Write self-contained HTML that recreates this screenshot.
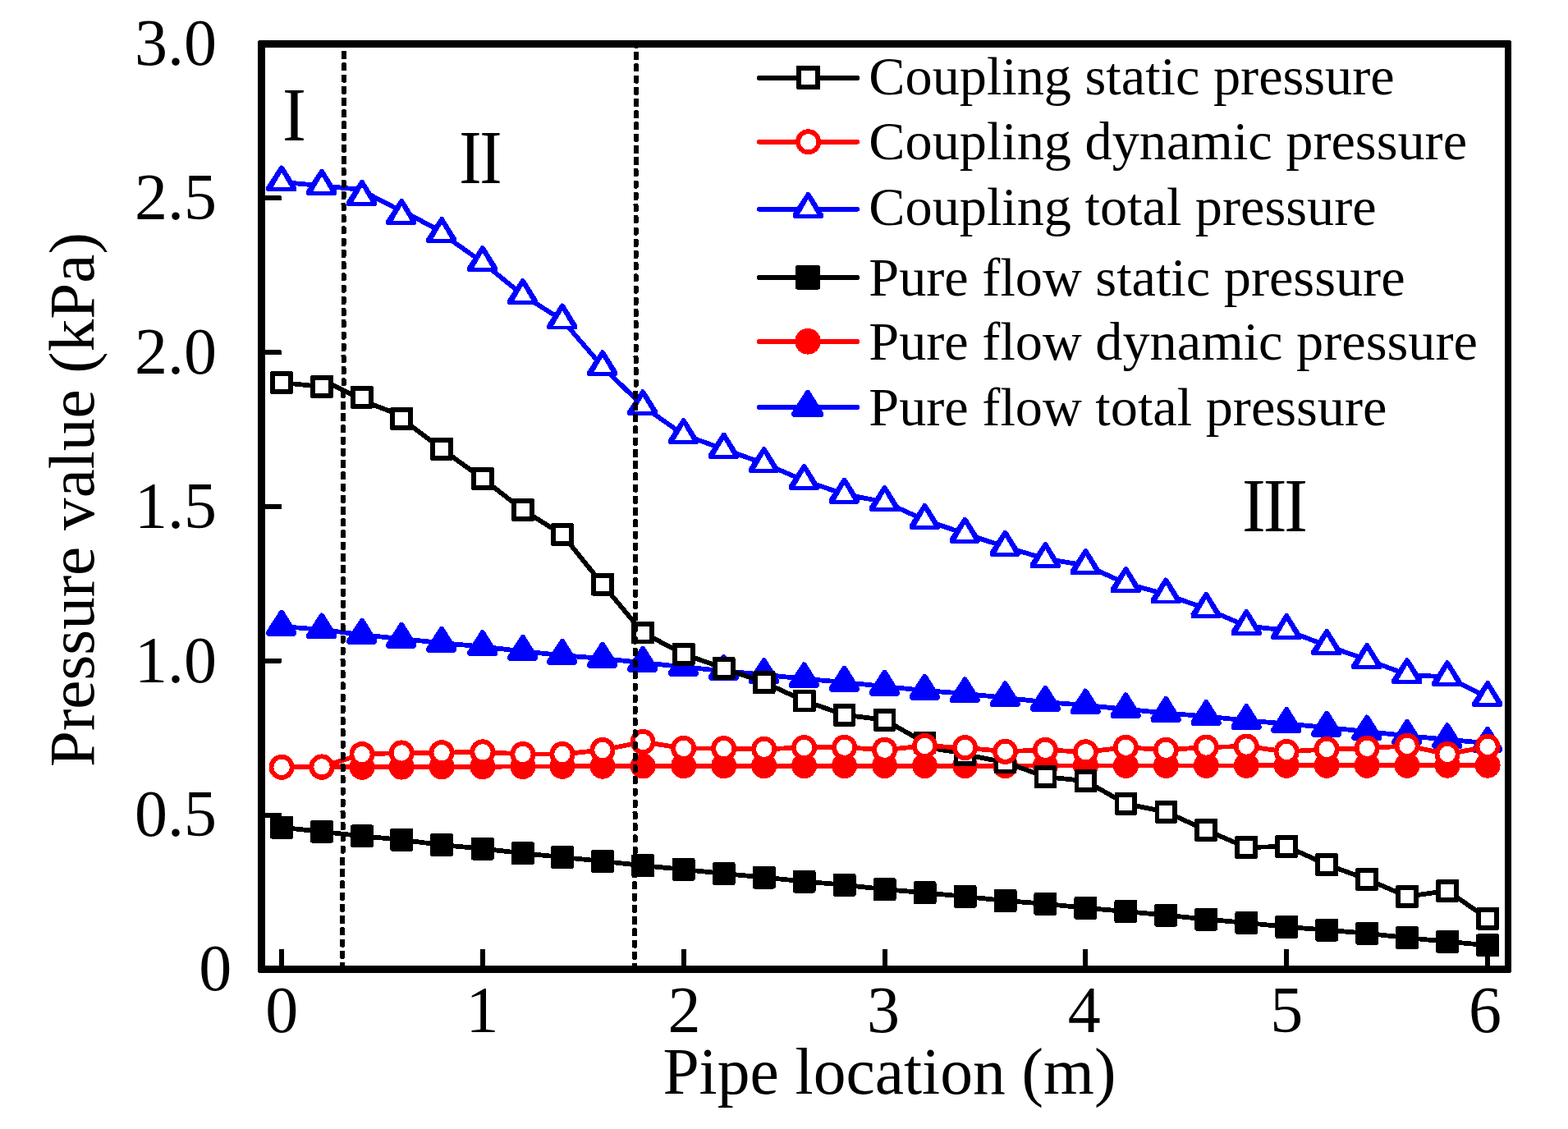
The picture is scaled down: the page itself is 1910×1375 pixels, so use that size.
<!DOCTYPE html>
<html lang="en">
<head>
<meta charset="utf-8">
<title>Pressure value vs pipe location</title>
<style>
html,body{margin:0;padding:0;background:#fff;}
body{width:1910px;height:1375px;overflow:hidden;}
svg{display:block;}
text{font-family:"Liberation Serif",serif;}
</style>
</head>
<body>
<svg width="1910" height="1375" viewBox="0 0 1910 1375" shape-rendering="crispEdges" font-family="'Liberation Serif', serif" fill="#000">
<rect x="0" y="0" width="1910" height="1375" fill="#fff"/>
<g fill="#000"><rect x="340" y="1156" width="6" height="24" rx="1.5"/><rect x="585" y="1156" width="6" height="24" rx="1.5"/><rect x="830" y="1156" width="6" height="24" rx="1.5"/><rect x="1075" y="1156" width="6" height="24" rx="1.5"/><rect x="1319" y="1156" width="6" height="24" rx="1.5"/><rect x="1564" y="1156" width="6" height="24" rx="1.5"/><rect x="1809" y="1156" width="6" height="24" rx="1.5"/><rect x="319" y="989.7" width="24" height="6" rx="1.5"/><rect x="319" y="801.8" width="24" height="6" rx="1.5"/><rect x="319" y="614" width="24" height="6" rx="1.5"/><rect x="319" y="426.2" width="24" height="6" rx="1.5"/><rect x="319" y="238.3" width="24" height="6" rx="1.5"/></g>
<g><polyline points="343.1,1007.8 392,1012.8 441,1018.3 489.2,1022.8 538.1,1029.1 587.9,1033.6 636.9,1039.2 685,1044 734,1048.9 783.1,1054.2 832.7,1058.9 881.7,1064 930.7,1068.5 979.6,1073.5 1028.6,1077.8 1077.6,1083.1 1126.5,1087.3 1175.5,1091.9 1224.5,1097 1273.4,1100.8 1322.4,1105.8 1371.4,1110 1420.3,1114.6 1469.3,1119.6 1518.3,1123.9 1567.2,1128.9 1616.2,1132.7 1665.2,1136.8 1714.1,1142.1 1763.1,1146.8 1812.1,1151.2" fill="none" stroke="#000000" stroke-width="5.8" stroke-linejoin="round" stroke-linecap="round"/><rect x="329.1" y="993.8" width="28" height="28" rx="2.4" fill="#000000"/><rect x="378" y="998.8" width="28" height="28" rx="2.4" fill="#000000"/><rect x="427" y="1004.3" width="28" height="28" rx="2.4" fill="#000000"/><rect x="475.2" y="1008.8" width="28" height="28" rx="2.4" fill="#000000"/><rect x="524.1" y="1015.1" width="28" height="28" rx="2.4" fill="#000000"/><rect x="573.9" y="1019.6" width="28" height="28" rx="2.4" fill="#000000"/><rect x="622.9" y="1025.2" width="28" height="28" rx="2.4" fill="#000000"/><rect x="671" y="1030" width="28" height="28" rx="2.4" fill="#000000"/><rect x="720" y="1034.9" width="28" height="28" rx="2.4" fill="#000000"/><rect x="769.1" y="1040.2" width="28" height="28" rx="2.4" fill="#000000"/><rect x="818.7" y="1044.9" width="28" height="28" rx="2.4" fill="#000000"/><rect x="867.7" y="1050" width="28" height="28" rx="2.4" fill="#000000"/><rect x="916.7" y="1054.5" width="28" height="28" rx="2.4" fill="#000000"/><rect x="965.6" y="1059.5" width="28" height="28" rx="2.4" fill="#000000"/><rect x="1014.6" y="1063.8" width="28" height="28" rx="2.4" fill="#000000"/><rect x="1063.6" y="1069.1" width="28" height="28" rx="2.4" fill="#000000"/><rect x="1112.5" y="1073.3" width="28" height="28" rx="2.4" fill="#000000"/><rect x="1161.5" y="1077.9" width="28" height="28" rx="2.4" fill="#000000"/><rect x="1210.5" y="1083" width="28" height="28" rx="2.4" fill="#000000"/><rect x="1259.4" y="1086.8" width="28" height="28" rx="2.4" fill="#000000"/><rect x="1308.4" y="1091.8" width="28" height="28" rx="2.4" fill="#000000"/><rect x="1357.4" y="1096" width="28" height="28" rx="2.4" fill="#000000"/><rect x="1406.3" y="1100.6" width="28" height="28" rx="2.4" fill="#000000"/><rect x="1455.3" y="1105.6" width="28" height="28" rx="2.4" fill="#000000"/><rect x="1504.3" y="1109.9" width="28" height="28" rx="2.4" fill="#000000"/><rect x="1553.2" y="1114.9" width="28" height="28" rx="2.4" fill="#000000"/><rect x="1602.2" y="1118.7" width="28" height="28" rx="2.4" fill="#000000"/><rect x="1651.2" y="1122.8" width="28" height="28" rx="2.4" fill="#000000"/><rect x="1700.1" y="1128.1" width="28" height="28" rx="2.4" fill="#000000"/><rect x="1749.1" y="1132.8" width="28" height="28" rx="2.4" fill="#000000"/><rect x="1798.1" y="1137.2" width="28" height="28" rx="2.4" fill="#000000"/></g>
<g><polyline points="343.1,934.3 392,934.3 441,934.3 489.2,934.1 538.1,933.9 587.9,933.7 636.9,933.5 685,933.4 734,933.2 783.1,933 832.7,932.8 881.7,932.8 930.7,932.7 979.6,932.7 1028.6,932.7 1077.6,932.6 1126.5,932.6 1175.5,932.6 1224.5,932.6 1273.4,932.5 1322.4,932.5 1371.4,932.5 1420.3,932.4 1469.3,932.4 1518.3,932.4 1567.2,932.3 1616.2,932.3 1665.2,932.3 1714.1,932.3 1763.1,932.2 1812.1,932.2" fill="none" stroke="#ff0000" stroke-width="5.8" stroke-linejoin="round" stroke-linecap="round"/><circle cx="343.1" cy="934.3" r="15.5" fill="#ff0000"/><circle cx="392" cy="934.3" r="15.5" fill="#ff0000"/><circle cx="441" cy="934.3" r="15.5" fill="#ff0000"/><circle cx="489.2" cy="934.1" r="15.5" fill="#ff0000"/><circle cx="538.1" cy="933.9" r="15.5" fill="#ff0000"/><circle cx="587.9" cy="933.7" r="15.5" fill="#ff0000"/><circle cx="636.9" cy="933.5" r="15.5" fill="#ff0000"/><circle cx="685" cy="933.4" r="15.5" fill="#ff0000"/><circle cx="734" cy="933.2" r="15.5" fill="#ff0000"/><circle cx="783.1" cy="933" r="15.5" fill="#ff0000"/><circle cx="832.7" cy="932.8" r="15.5" fill="#ff0000"/><circle cx="881.7" cy="932.8" r="15.5" fill="#ff0000"/><circle cx="930.7" cy="932.7" r="15.5" fill="#ff0000"/><circle cx="979.6" cy="932.7" r="15.5" fill="#ff0000"/><circle cx="1028.6" cy="932.7" r="15.5" fill="#ff0000"/><circle cx="1077.6" cy="932.6" r="15.5" fill="#ff0000"/><circle cx="1126.5" cy="932.6" r="15.5" fill="#ff0000"/><circle cx="1175.5" cy="932.6" r="15.5" fill="#ff0000"/><circle cx="1224.5" cy="932.6" r="15.5" fill="#ff0000"/><circle cx="1273.4" cy="932.5" r="15.5" fill="#ff0000"/><circle cx="1322.4" cy="932.5" r="15.5" fill="#ff0000"/><circle cx="1371.4" cy="932.5" r="15.5" fill="#ff0000"/><circle cx="1420.3" cy="932.4" r="15.5" fill="#ff0000"/><circle cx="1469.3" cy="932.4" r="15.5" fill="#ff0000"/><circle cx="1518.3" cy="932.4" r="15.5" fill="#ff0000"/><circle cx="1567.2" cy="932.3" r="15.5" fill="#ff0000"/><circle cx="1616.2" cy="932.3" r="15.5" fill="#ff0000"/><circle cx="1665.2" cy="932.3" r="15.5" fill="#ff0000"/><circle cx="1714.1" cy="932.3" r="15.5" fill="#ff0000"/><circle cx="1763.1" cy="932.2" r="15.5" fill="#ff0000"/><circle cx="1812.1" cy="932.2" r="15.5" fill="#ff0000"/></g>
<g><polyline points="343.1,763 392,766.8 441,773.1 489.2,778.1 538.1,783.1 587.9,787.6 636.9,793.2 685,798.2 734,802 783.1,807.1 832.7,812.2 881.7,817.2 930.7,821.7 979.6,826.7 1028.6,831 1077.6,836 1126.5,841 1175.5,844.8 1224.5,849.8 1273.4,855.1 1322.4,858.9 1371.4,863.8 1420.3,868.4 1469.3,872.5 1518.3,877.5 1567.2,881.5 1616.2,886 1665.2,890.9 1714.1,896.2 1763.1,900.7 1812.1,905.1" fill="none" stroke="#0000ff" stroke-width="5.8" stroke-linejoin="round" stroke-linecap="round"/><path d="M342.1 742.5Q344.9 742.5 345.7 744.1L361.2 769.1V772.5L359.2 774.5H326.2L324.2 772.5V769.1L340.4 744.1Q341.2 742.5 342.1 742.5Z" fill="#0000ff"/><path d="M391 746.3Q393.8 746.3 394.6 747.9L410.2 772.9V776.3L408.2 778.3H375.2L373.2 776.3V772.9L389.4 747.9Q390.2 746.3 391 746.3Z" fill="#0000ff"/><path d="M440 752.6Q442.8 752.6 443.6 754.2L459.2 779.2V782.6L457.2 784.6H424.2L422.2 782.6V779.2L438.4 754.2Q439.2 752.6 440 752.6Z" fill="#0000ff"/><path d="M488.2 757.6Q491 757.6 491.8 759.2L507.4 784.2V787.6L505.4 789.6H472.4L470.4 787.6V784.2L486.6 759.2Q487.4 757.6 488.2 757.6Z" fill="#0000ff"/><path d="M537.1 762.6Q539.9 762.6 540.7 764.2L556.3 789.2V792.6L554.3 794.6H521.3L519.3 792.6V789.2L535.5 764.2Q536.3 762.6 537.1 762.6Z" fill="#0000ff"/><path d="M586.9 767.1Q589.7 767.1 590.5 768.7L606.1 793.7V797.1L604.1 799.1H571.1L569.1 797.1V793.7L585.3 768.7Q586.1 767.1 586.9 767.1Z" fill="#0000ff"/><path d="M635.9 772.7Q638.7 772.7 639.5 774.3L655.1 799.3V802.7L653.1 804.7H620.1L618.1 802.7V799.3L634.3 774.3Q635.1 772.7 635.9 772.7Z" fill="#0000ff"/><path d="M684 777.7Q686.8 777.7 687.6 779.3L703.2 804.3V807.7L701.2 809.7H668.2L666.2 807.7V804.3L682.4 779.3Q683.2 777.7 684 777.7Z" fill="#0000ff"/><path d="M733 781.5Q735.8 781.5 736.6 783.1L752.2 808.1V811.5L750.2 813.5H717.2L715.2 811.5V808.1L731.4 783.1Q732.2 781.5 733 781.5Z" fill="#0000ff"/><path d="M782.1 786.6Q784.9 786.6 785.7 788.2L801.3 813.2V816.6L799.3 818.6H766.3L764.3 816.6V813.2L780.5 788.2Q781.3 786.6 782.1 786.6Z" fill="#0000ff"/><path d="M831.7 791.7Q834.5 791.7 835.3 793.3L850.9 818.3V821.7L848.9 823.7H815.9L813.9 821.7V818.3L830.1 793.3Q830.9 791.7 831.7 791.7Z" fill="#0000ff"/><path d="M880.7 796.7Q883.5 796.7 884.3 798.3L899.9 823.3V826.7L897.9 828.7H864.9L862.9 826.7V823.3L879.1 798.3Q879.9 796.7 880.7 796.7Z" fill="#0000ff"/><path d="M929.7 801.2Q932.5 801.2 933.3 802.8L948.9 827.8V831.2L946.9 833.2H913.9L911.9 831.2V827.8L928.1 802.8Q928.9 801.2 929.7 801.2Z" fill="#0000ff"/><path d="M978.6 806.2Q981.4 806.2 982.2 807.8L997.8 832.8V836.2L995.8 838.2H962.8L960.8 836.2V832.8L977 807.8Q977.8 806.2 978.6 806.2Z" fill="#0000ff"/><path d="M1027.6 810.5Q1030.4 810.5 1031.2 812.1L1046.8 837.1V840.5L1044.8 842.5H1011.8L1009.8 840.5V837.1L1026 812.1Q1026.8 810.5 1027.6 810.5Z" fill="#0000ff"/><path d="M1076.6 815.5Q1079.4 815.5 1080.2 817.1L1095.8 842.1V845.5L1093.8 847.5H1060.8L1058.8 845.5V842.1L1075 817.1Q1075.8 815.5 1076.6 815.5Z" fill="#0000ff"/><path d="M1125.5 820.5Q1128.3 820.5 1129.1 822.1L1144.7 847.1V850.5L1142.7 852.5H1109.7L1107.7 850.5V847.1L1123.9 822.1Q1124.7 820.5 1125.5 820.5Z" fill="#0000ff"/><path d="M1174.5 824.3Q1177.3 824.3 1178.1 825.9L1193.7 850.9V854.3L1191.7 856.3H1158.7L1156.7 854.3V850.9L1172.9 825.9Q1173.7 824.3 1174.5 824.3Z" fill="#0000ff"/><path d="M1223.5 829.3Q1226.3 829.3 1227.1 830.9L1242.7 855.9V859.3L1240.7 861.3H1207.7L1205.7 859.3V855.9L1221.9 830.9Q1222.7 829.3 1223.5 829.3Z" fill="#0000ff"/><path d="M1272.4 834.6Q1275.2 834.6 1276 836.2L1291.6 861.2V864.6L1289.6 866.6H1256.6L1254.6 864.6V861.2L1270.8 836.2Q1271.6 834.6 1272.4 834.6Z" fill="#0000ff"/><path d="M1321.4 838.4Q1324.2 838.4 1325 840L1340.6 865V868.4L1338.6 870.4H1305.6L1303.6 868.4V865L1319.8 840Q1320.6 838.4 1321.4 838.4Z" fill="#0000ff"/><path d="M1370.4 843.3Q1373.2 843.3 1374 844.9L1389.6 869.9V873.3L1387.6 875.3H1354.6L1352.6 873.3V869.9L1368.8 844.9Q1369.6 843.3 1370.4 843.3Z" fill="#0000ff"/><path d="M1419.3 847.9Q1422.1 847.9 1422.9 849.5L1438.5 874.5V877.9L1436.5 879.9H1403.5L1401.5 877.9V874.5L1417.7 849.5Q1418.5 847.9 1419.3 847.9Z" fill="#0000ff"/><path d="M1468.3 852Q1471.1 852 1471.9 853.6L1487.5 878.6V882L1485.5 884H1452.5L1450.5 882V878.6L1466.7 853.6Q1467.5 852 1468.3 852Z" fill="#0000ff"/><path d="M1517.3 857Q1520.1 857 1520.9 858.6L1536.5 883.6V887L1534.5 889H1501.5L1499.5 887V883.6L1515.7 858.6Q1516.5 857 1517.3 857Z" fill="#0000ff"/><path d="M1566.2 861Q1569 861 1569.8 862.6L1585.4 887.6V891L1583.4 893H1550.4L1548.4 891V887.6L1564.6 862.6Q1565.4 861 1566.2 861Z" fill="#0000ff"/><path d="M1615.2 865.5Q1618 865.5 1618.8 867.1L1634.4 892.1V895.5L1632.4 897.5H1599.4L1597.4 895.5V892.1L1613.6 867.1Q1614.4 865.5 1615.2 865.5Z" fill="#0000ff"/><path d="M1664.2 870.4Q1667 870.4 1667.8 872L1683.4 897V900.4L1681.4 902.4H1648.4L1646.4 900.4V897L1662.6 872Q1663.4 870.4 1664.2 870.4Z" fill="#0000ff"/><path d="M1713.1 875.7Q1715.9 875.7 1716.7 877.3L1732.3 902.3V905.7L1730.3 907.7H1697.3L1695.3 905.7V902.3L1711.5 877.3Q1712.3 875.7 1713.1 875.7Z" fill="#0000ff"/><path d="M1762.1 880.2Q1764.9 880.2 1765.7 881.8L1781.3 906.8V910.2L1779.3 912.2H1746.3L1744.3 910.2V906.8L1760.5 881.8Q1761.3 880.2 1762.1 880.2Z" fill="#0000ff"/><path d="M1811.1 884.6Q1813.9 884.6 1814.7 886.2L1830.3 911.2V914.6L1828.3 916.6H1795.3L1793.3 914.6V911.2L1809.5 886.2Q1810.3 884.6 1811.1 884.6Z" fill="#0000ff"/></g>
<g><polyline points="343.1,466 392,470.9 397,465 436,484.4 441,483.8 446,489.9 484.2,504.2 489.2,509.9 538.1,546.9 587.9,582.9 636.9,621 685,651.1 734,711.8 783.1,770.5 832.7,796.6 881.7,813.8 930.7,831.1 979.6,853.4 1028.6,870.6 1077.6,876.8 1126.5,904.4 1131.5,910.9 1170.5,916.7 1175.5,919 1224.5,928.4 1273.4,946 1322.4,951.2 1371.4,978.9 1420.3,988.9 1469.3,1011 1518.3,1032 1567.2,1030.9 1616.2,1053 1665.2,1070.8 1714.1,1091.9 1763.1,1084.8 1812.1,1118.7" fill="none" stroke="#000000" stroke-width="5.8" stroke-linejoin="round" stroke-linecap="round"/><rect x="329.2" y="452.1" width="27.7" height="27.7" rx="1.6" fill="#000000"/><rect x="335" y="457.9" width="16.1" height="16.1" fill="#fff"/><rect x="378.2" y="457" width="27.7" height="27.7" rx="1.6" fill="#000000"/><rect x="384" y="462.8" width="16.1" height="16.1" fill="#fff"/><rect x="427.1" y="469.9" width="27.7" height="27.7" rx="1.6" fill="#000000"/><rect x="432.9" y="475.8" width="16.1" height="16.1" fill="#fff"/><rect x="475.3" y="496" width="27.7" height="27.7" rx="1.6" fill="#000000"/><rect x="481.1" y="501.8" width="16.1" height="16.1" fill="#fff"/><rect x="524.2" y="533" width="27.7" height="27.7" rx="1.6" fill="#000000"/><rect x="530" y="538.9" width="16.1" height="16.1" fill="#fff"/><rect x="574" y="569" width="27.7" height="27.7" rx="1.6" fill="#000000"/><rect x="579.8" y="574.9" width="16.1" height="16.1" fill="#fff"/><rect x="623" y="607.1" width="27.7" height="27.7" rx="1.6" fill="#000000"/><rect x="628.8" y="613" width="16.1" height="16.1" fill="#fff"/><rect x="671.2" y="637.2" width="27.7" height="27.7" rx="1.6" fill="#000000"/><rect x="677" y="643.1" width="16.1" height="16.1" fill="#fff"/><rect x="720.2" y="697.9" width="27.7" height="27.7" rx="1.6" fill="#000000"/><rect x="726" y="703.8" width="16.1" height="16.1" fill="#fff"/><rect x="769.2" y="756.6" width="27.7" height="27.7" rx="1.6" fill="#000000"/><rect x="775" y="762.5" width="16.1" height="16.1" fill="#fff"/><rect x="818.9" y="782.8" width="27.7" height="27.7" rx="1.6" fill="#000000"/><rect x="824.7" y="788.6" width="16.1" height="16.1" fill="#fff"/><rect x="867.8" y="799.9" width="27.7" height="27.7" rx="1.6" fill="#000000"/><rect x="873.6" y="805.8" width="16.1" height="16.1" fill="#fff"/><rect x="916.8" y="817.3" width="27.7" height="27.7" rx="1.6" fill="#000000"/><rect x="922.6" y="823.1" width="16.1" height="16.1" fill="#fff"/><rect x="965.8" y="839.5" width="27.7" height="27.7" rx="1.6" fill="#000000"/><rect x="971.6" y="845.4" width="16.1" height="16.1" fill="#fff"/><rect x="1014.7" y="856.8" width="27.7" height="27.7" rx="1.6" fill="#000000"/><rect x="1020.5" y="862.6" width="16.1" height="16.1" fill="#fff"/><rect x="1063.7" y="862.9" width="27.7" height="27.7" rx="1.6" fill="#000000"/><rect x="1069.5" y="868.8" width="16.1" height="16.1" fill="#fff"/><rect x="1112.7" y="890.5" width="27.7" height="27.7" rx="1.6" fill="#000000"/><rect x="1118.5" y="896.4" width="16.1" height="16.1" fill="#fff"/><rect x="1161.6" y="905.1" width="27.7" height="27.7" rx="1.6" fill="#000000"/><rect x="1167.4" y="911" width="16.1" height="16.1" fill="#fff"/><rect x="1210.6" y="914.5" width="27.7" height="27.7" rx="1.6" fill="#000000"/><rect x="1216.4" y="920.4" width="16.1" height="16.1" fill="#fff"/><rect x="1259.6" y="932.1" width="27.7" height="27.7" rx="1.6" fill="#000000"/><rect x="1265.4" y="938" width="16.1" height="16.1" fill="#fff"/><rect x="1308.5" y="937.4" width="27.7" height="27.7" rx="1.6" fill="#000000"/><rect x="1314.3" y="943.2" width="16.1" height="16.1" fill="#fff"/><rect x="1357.5" y="965" width="27.7" height="27.7" rx="1.6" fill="#000000"/><rect x="1363.3" y="970.9" width="16.1" height="16.1" fill="#fff"/><rect x="1406.5" y="975" width="27.7" height="27.7" rx="1.6" fill="#000000"/><rect x="1412.3" y="980.9" width="16.1" height="16.1" fill="#fff"/><rect x="1455.4" y="997.1" width="27.7" height="27.7" rx="1.6" fill="#000000"/><rect x="1461.2" y="1003" width="16.1" height="16.1" fill="#fff"/><rect x="1504.4" y="1018.1" width="27.7" height="27.7" rx="1.6" fill="#000000"/><rect x="1510.2" y="1024" width="16.1" height="16.1" fill="#fff"/><rect x="1553.4" y="1017.1" width="27.7" height="27.7" rx="1.6" fill="#000000"/><rect x="1559.2" y="1022.9" width="16.1" height="16.1" fill="#fff"/><rect x="1602.3" y="1039.2" width="27.7" height="27.7" rx="1.6" fill="#000000"/><rect x="1608.1" y="1045" width="16.1" height="16.1" fill="#fff"/><rect x="1651.3" y="1057" width="27.7" height="27.7" rx="1.6" fill="#000000"/><rect x="1657.1" y="1062.8" width="16.1" height="16.1" fill="#fff"/><rect x="1700.3" y="1078.1" width="27.7" height="27.7" rx="1.6" fill="#000000"/><rect x="1706.1" y="1083.9" width="16.1" height="16.1" fill="#fff"/><rect x="1749.2" y="1071" width="27.7" height="27.7" rx="1.6" fill="#000000"/><rect x="1755" y="1076.8" width="16.1" height="16.1" fill="#fff"/><rect x="1798.2" y="1104.9" width="27.7" height="27.7" rx="1.6" fill="#000000"/><rect x="1804" y="1110.7" width="16.1" height="16.1" fill="#fff"/></g>
<g><polyline points="343.1,934.3 392,933.9 441,918.6 489.2,916.9 538.1,916.7 587.9,915.8 636.9,918.5 685,918.5 734,913.5 783.1,903.5 832.7,911.4 881.7,911.6 930.7,912.3 979.6,910.5 1028.6,910.2 1077.6,913.2 1126.5,908.4 1175.5,910.6 1224.5,915.3 1273.4,913.3 1322.4,915.8 1371.4,910.3 1420.3,913.3 1469.3,910 1518.3,909 1567.2,915.5 1616.2,912.4 1665.2,911.3 1714.1,908.3 1763.1,918.4 1812.1,909.3" fill="none" stroke="#ff0000" stroke-width="5.8" stroke-linejoin="round" stroke-linecap="round"/><circle cx="343.1" cy="934.3" r="12.6" fill="#fff" stroke="#ff0000" stroke-width="5.8"/><circle cx="392" cy="933.9" r="12.6" fill="#fff" stroke="#ff0000" stroke-width="5.8"/><circle cx="441" cy="918.6" r="12.6" fill="#fff" stroke="#ff0000" stroke-width="5.8"/><circle cx="489.2" cy="916.9" r="12.6" fill="#fff" stroke="#ff0000" stroke-width="5.8"/><circle cx="538.1" cy="916.7" r="12.6" fill="#fff" stroke="#ff0000" stroke-width="5.8"/><circle cx="587.9" cy="915.8" r="12.6" fill="#fff" stroke="#ff0000" stroke-width="5.8"/><circle cx="636.9" cy="918.5" r="12.6" fill="#fff" stroke="#ff0000" stroke-width="5.8"/><circle cx="685" cy="918.5" r="12.6" fill="#fff" stroke="#ff0000" stroke-width="5.8"/><circle cx="734" cy="913.5" r="12.6" fill="#fff" stroke="#ff0000" stroke-width="5.8"/><circle cx="783.1" cy="903.5" r="12.6" fill="#fff" stroke="#ff0000" stroke-width="5.8"/><circle cx="832.7" cy="911.4" r="12.6" fill="#fff" stroke="#ff0000" stroke-width="5.8"/><circle cx="881.7" cy="911.6" r="12.6" fill="#fff" stroke="#ff0000" stroke-width="5.8"/><circle cx="930.7" cy="912.3" r="12.6" fill="#fff" stroke="#ff0000" stroke-width="5.8"/><circle cx="979.6" cy="910.5" r="12.6" fill="#fff" stroke="#ff0000" stroke-width="5.8"/><circle cx="1028.6" cy="910.2" r="12.6" fill="#fff" stroke="#ff0000" stroke-width="5.8"/><circle cx="1077.6" cy="913.2" r="12.6" fill="#fff" stroke="#ff0000" stroke-width="5.8"/><circle cx="1126.5" cy="908.4" r="12.6" fill="#fff" stroke="#ff0000" stroke-width="5.8"/><circle cx="1175.5" cy="910.6" r="12.6" fill="#fff" stroke="#ff0000" stroke-width="5.8"/><circle cx="1224.5" cy="915.3" r="12.6" fill="#fff" stroke="#ff0000" stroke-width="5.8"/><circle cx="1273.4" cy="913.3" r="12.6" fill="#fff" stroke="#ff0000" stroke-width="5.8"/><circle cx="1322.4" cy="915.8" r="12.6" fill="#fff" stroke="#ff0000" stroke-width="5.8"/><circle cx="1371.4" cy="910.3" r="12.6" fill="#fff" stroke="#ff0000" stroke-width="5.8"/><circle cx="1420.3" cy="913.3" r="12.6" fill="#fff" stroke="#ff0000" stroke-width="5.8"/><circle cx="1469.3" cy="910" r="12.6" fill="#fff" stroke="#ff0000" stroke-width="5.8"/><circle cx="1518.3" cy="909" r="12.6" fill="#fff" stroke="#ff0000" stroke-width="5.8"/><circle cx="1567.2" cy="915.5" r="12.6" fill="#fff" stroke="#ff0000" stroke-width="5.8"/><circle cx="1616.2" cy="912.4" r="12.6" fill="#fff" stroke="#ff0000" stroke-width="5.8"/><circle cx="1665.2" cy="911.3" r="12.6" fill="#fff" stroke="#ff0000" stroke-width="5.8"/><circle cx="1714.1" cy="908.3" r="12.6" fill="#fff" stroke="#ff0000" stroke-width="5.8"/><circle cx="1763.1" cy="918.4" r="12.6" fill="#fff" stroke="#ff0000" stroke-width="5.8"/><circle cx="1812.1" cy="909.3" r="12.6" fill="#fff" stroke="#ff0000" stroke-width="5.8"/></g>
<g><polyline points="343.1,221.8 392,226.2 397,226.8 436,230.6 441,239.4 446,234.8 484.2,254.7 489.2,262.4 494.2,258.9 533.1,279.7 538.1,284.4 587.9,319.5 636.9,359.5 685,389.9 734,446.6 783.1,494.6 832.7,529.6 881.7,547 930.7,564.5 979.6,585.2 1028.6,602 1077.6,611.4 1126.5,633.3 1175.5,650 1224.5,666 1273.4,680.6 1322.4,688.5 1371.4,710.5 1420.3,723.9 1469.3,741.4 1518.3,762.5 1567.2,767.6 1616.2,786.5 1665.2,803.5 1714.1,821.6 1763.1,824.7 1812.1,849.5" fill="none" stroke="#0000ff" stroke-width="5.8" stroke-linejoin="round" stroke-linecap="round"/><path d="M342.1 201.3Q344.9 201.3 345.7 202.9L361.2 227.9V232L359.9 233.3H325.6L324.2 232V227.9L340.4 202.9Q341.2 201.3 342.1 201.3Z" fill="#0000ff"/><path d="M343.1 210.3L353.7 228.4H332.4Z" fill="#fff"/><path d="M391 205.7Q393.8 205.7 394.6 207.3L410.2 232.3V236.4L408.9 237.7H374.5L373.2 236.4V232.3L389.4 207.3Q390.2 205.7 391 205.7Z" fill="#0000ff"/><path d="M392 214.7L402.6 232.8H381.4Z" fill="#fff"/><path d="M440 218.9Q442.8 218.9 443.6 220.5L459.2 245.5V249.6L457.9 250.9H423.5L422.2 249.6V245.5L438.4 220.5Q439.2 218.9 440 218.9Z" fill="#0000ff"/><path d="M441 227.9L451.6 246H430.4Z" fill="#fff"/><path d="M488.2 241.9Q491 241.9 491.8 243.5L507.4 268.6V272.6L506.1 273.9H471.7L470.4 272.6V268.6L486.6 243.5Q487.4 241.9 488.2 241.9Z" fill="#0000ff"/><path d="M489.2 250.9L499.8 269.1H478.6Z" fill="#fff"/><path d="M537.1 263.9Q539.9 263.9 540.7 265.6L556.3 290.6V294.6L555 295.9H520.6L519.3 294.6V290.6L535.5 265.6Q536.3 263.9 537.1 263.9Z" fill="#0000ff"/><path d="M538.1 272.9L548.7 291.1H527.5Z" fill="#fff"/><path d="M586.9 299Q589.7 299 590.5 300.6L606.1 325.6V329.7L604.8 331H570.4L569.1 329.7V325.6L585.3 300.6Q586.1 299 586.9 299Z" fill="#0000ff"/><path d="M587.9 308L598.5 326.1H577.3Z" fill="#fff"/><path d="M635.9 339Q638.7 339 639.5 340.6L655.1 365.6V369.7L653.8 371H619.4L618.1 369.7V365.6L634.3 340.6Q635.1 339 635.9 339Z" fill="#0000ff"/><path d="M636.9 348L647.5 366.1H626.3Z" fill="#fff"/><path d="M684 369.4Q686.8 369.4 687.6 371L703.2 396V400.1L701.9 401.4H667.5L666.2 400.1V396L682.4 371Q683.2 369.4 684 369.4Z" fill="#0000ff"/><path d="M685 378.4L695.6 396.5H674.4Z" fill="#fff"/><path d="M733 426.1Q735.8 426.1 736.6 427.8L752.2 452.8V456.8L750.9 458.1H716.5L715.2 456.8V452.8L731.4 427.8Q732.2 426.1 733 426.1Z" fill="#0000ff"/><path d="M734 435.1L744.6 453.2H723.4Z" fill="#fff"/><path d="M782.1 474.1Q784.9 474.1 785.7 475.7L801.3 500.7V504.8L800 506.1H765.6L764.3 504.8V500.7L780.5 475.7Q781.3 474.1 782.1 474.1Z" fill="#0000ff"/><path d="M783.1 483.1L793.7 501.2H772.5Z" fill="#fff"/><path d="M831.7 509.1Q834.5 509.1 835.3 510.7L850.9 535.7V539.8L849.6 541.1H815.2L813.9 539.8V535.7L830.1 510.7Q830.9 509.1 831.7 509.1Z" fill="#0000ff"/><path d="M832.7 518.1L843.3 536.2H822.1Z" fill="#fff"/><path d="M880.7 526.5Q883.5 526.5 884.3 528.1L899.9 553.1V557.2L898.6 558.5H864.2L862.9 557.2V553.1L879.1 528.1Q879.9 526.5 880.7 526.5Z" fill="#0000ff"/><path d="M881.7 535.5L892.3 553.6H871.1Z" fill="#fff"/><path d="M929.7 544Q932.5 544 933.3 545.6L948.9 570.6V574.7L947.6 576H913.2L911.9 574.7V570.6L928.1 545.6Q928.9 544 929.7 544Z" fill="#0000ff"/><path d="M930.7 553L941.3 571.1H920.1Z" fill="#fff"/><path d="M978.6 564.8Q981.4 564.8 982.2 566.4L997.8 591.4V595.5L996.5 596.8H962.1L960.8 595.5V591.4L977 566.4Q977.8 564.8 978.6 564.8Z" fill="#0000ff"/><path d="M979.6 573.8L990.2 591.9H969Z" fill="#fff"/><path d="M1027.6 581.5Q1030.4 581.5 1031.2 583.1L1046.8 608.1V612.2L1045.5 613.5H1011.1L1009.8 612.2V608.1L1026 583.1Q1026.8 581.5 1027.6 581.5Z" fill="#0000ff"/><path d="M1028.6 590.5L1039.2 608.6H1018Z" fill="#fff"/><path d="M1076.6 590.9Q1079.4 590.9 1080.2 592.5L1095.8 617.5V621.6L1094.5 622.9H1060.1L1058.8 621.6V617.5L1075 592.5Q1075.8 590.9 1076.6 590.9Z" fill="#0000ff"/><path d="M1077.6 599.9L1088.2 618H1067Z" fill="#fff"/><path d="M1125.5 612.8Q1128.3 612.8 1129.1 614.4L1144.7 639.4V643.5L1143.4 644.8H1109L1107.7 643.5V639.4L1123.9 614.4Q1124.7 612.8 1125.5 612.8Z" fill="#0000ff"/><path d="M1126.5 621.8L1137.1 639.9H1115.9Z" fill="#fff"/><path d="M1174.5 629.5Q1177.3 629.5 1178.1 631.1L1193.7 656.1V660.2L1192.4 661.5H1158L1156.7 660.2V656.1L1172.9 631.1Q1173.7 629.5 1174.5 629.5Z" fill="#0000ff"/><path d="M1175.5 638.5L1186.1 656.6H1164.9Z" fill="#fff"/><path d="M1223.5 645.5Q1226.3 645.5 1227.1 647.1L1242.7 672.1V676.2L1241.4 677.5H1207L1205.7 676.2V672.1L1221.9 647.1Q1222.7 645.5 1223.5 645.5Z" fill="#0000ff"/><path d="M1224.5 654.5L1235.1 672.6H1213.9Z" fill="#fff"/><path d="M1272.4 660.1Q1275.2 660.1 1276 661.7L1291.6 686.7V690.8L1290.3 692.1H1255.9L1254.6 690.8V686.7L1270.8 661.7Q1271.6 660.1 1272.4 660.1Z" fill="#0000ff"/><path d="M1273.4 669.1L1284 687.2H1262.8Z" fill="#fff"/><path d="M1321.4 668Q1324.2 668 1325 669.6L1340.6 694.6V698.7L1339.3 700H1304.9L1303.6 698.7V694.6L1319.8 669.6Q1320.6 668 1321.4 668Z" fill="#0000ff"/><path d="M1322.4 677L1333 695.1H1311.8Z" fill="#fff"/><path d="M1370.4 690Q1373.2 690 1374 691.6L1389.6 716.6V720.8L1388.3 722H1353.9L1352.6 720.8V716.6L1368.8 691.6Q1369.6 690 1370.4 690Z" fill="#0000ff"/><path d="M1371.4 699L1382 717.1H1360.8Z" fill="#fff"/><path d="M1419.3 703.4Q1422.1 703.4 1422.9 705L1438.5 730V734.1L1437.2 735.4H1402.8L1401.5 734.1V730L1417.7 705Q1418.5 703.4 1419.3 703.4Z" fill="#0000ff"/><path d="M1420.3 712.4L1430.9 730.5H1409.7Z" fill="#fff"/><path d="M1468.3 720.9Q1471.1 720.9 1471.9 722.5L1487.5 747.5V751.6L1486.2 752.9H1451.8L1450.5 751.6V747.5L1466.7 722.5Q1467.5 720.9 1468.3 720.9Z" fill="#0000ff"/><path d="M1469.3 729.9L1479.9 748H1458.7Z" fill="#fff"/><path d="M1517.3 742Q1520.1 742 1520.9 743.6L1536.5 768.6V772.7L1535.2 774H1500.8L1499.5 772.7V768.6L1515.7 743.6Q1516.5 742 1517.3 742Z" fill="#0000ff"/><path d="M1518.3 751L1528.9 769.1H1507.7Z" fill="#fff"/><path d="M1566.2 747.1Q1569 747.1 1569.8 748.7L1585.4 773.7V777.8L1584.1 779.1H1549.7L1548.4 777.8V773.7L1564.6 748.7Q1565.4 747.1 1566.2 747.1Z" fill="#0000ff"/><path d="M1567.2 756.1L1577.8 774.2H1556.6Z" fill="#fff"/><path d="M1615.2 766Q1618 766 1618.8 767.6L1634.4 792.6V796.7L1633.1 798H1598.7L1597.4 796.7V792.6L1613.6 767.6Q1614.4 766 1615.2 766Z" fill="#0000ff"/><path d="M1616.2 775L1626.8 793.1H1605.6Z" fill="#fff"/><path d="M1664.2 783Q1667 783 1667.8 784.6L1683.4 809.6V813.7L1682.1 815H1647.7L1646.4 813.7V809.6L1662.6 784.6Q1663.4 783 1664.2 783Z" fill="#0000ff"/><path d="M1665.2 792L1675.8 810.1H1654.6Z" fill="#fff"/><path d="M1713.1 801.1Q1715.9 801.1 1716.7 802.7L1732.3 827.7V831.8L1731 833.1H1696.6L1695.3 831.8V827.7L1711.5 802.7Q1712.3 801.1 1713.1 801.1Z" fill="#0000ff"/><path d="M1714.1 810.1L1724.7 828.2H1703.5Z" fill="#fff"/><path d="M1762.1 804.2Q1764.9 804.2 1765.7 805.8L1781.3 830.8V834.9L1780 836.2H1745.6L1744.3 834.9V830.8L1760.5 805.8Q1761.3 804.2 1762.1 804.2Z" fill="#0000ff"/><path d="M1763.1 813.2L1773.7 831.3H1752.5Z" fill="#fff"/><path d="M1811.1 829Q1813.9 829 1814.7 830.6L1830.3 855.6V859.7L1829 861H1794.6L1793.3 859.7V855.6L1809.5 830.6Q1810.3 829 1811.1 829Z" fill="#0000ff"/><path d="M1812.1 838L1822.7 856.1H1801.5Z" fill="#fff"/></g>
<path d="M417.5 63.5h3v7h-3zM417.5 77.7h3v7h-3zM417.5 92h3v7h-3zM417.5 106.2h3v7h-3zM417.5 120.4h3v7h-3zM417.5 134.7h3v7h-3zM417.5 148.9h3v7h-3zM417.5 163.1h3v7h-3zM417.5 177.3h3v7h-3zM417.5 191.6h3v7h-3zM417 205.8h3v7h-3zM417 220h3v7h-3zM417 234.3h3v7h-3zM417 248.5h3v7h-3zM417 262.7h3v7h-3zM417 276.9h3v7h-3zM417 291.2h3v7h-3zM417 305.4h3v7h-3zM417 319.6h3v7h-3zM417 333.9h3v7h-3zM417 348.1h3v7h-3zM417 362.3h3v7h-3zM417 376.6h3v7h-3zM417 390.8h3v7h-3zM417 405h3v7h-3zM417 419.3h3v7h-3zM417 433.5h3v7h-3zM417 447.7h3v7h-3zM417 461.9h3v7h-3zM416.5 476.2h3v7h-3zM416.5 490.4h3v7h-3zM416.5 504.6h3v7h-3zM416.5 518.9h3v7h-3zM416.5 533.1h3v7h-3zM416.5 547.3h3v7h-3zM416.5 561.6h3v7h-3zM416.5 575.8h3v7h-3zM416.5 590h3v7h-3zM416.5 604.2h3v7h-3zM416.5 618.5h3v7h-3zM416.5 632.7h3v7h-3zM416.5 646.9h3v7h-3zM416.5 661.2h3v7h-3zM416.5 675.4h3v7h-3zM416.5 689.6h3v7h-3zM416.5 703.9h3v7h-3zM416.5 718.1h3v7h-3zM416.5 732.3h3v7h-3zM416.5 746.5h3v7h-3zM416 760.8h3v7h-3zM416 775h3v7h-3zM416 789.2h3v7h-3zM416 803.5h3v7h-3zM416 817.7h3v7h-3zM416 831.9h3v7h-3zM416 846.2h3v7h-3zM416 860.4h3v7h-3zM416 874.6h3v7h-3zM416 888.8h3v7h-3zM416 903.1h3v7h-3zM416 917.3h3v7h-3zM416 931.5h3v7h-3zM416 945.8h3v7h-3zM416 960h3v7h-3zM416 974.2h3v7h-3zM416 988.5h3v7h-3zM416 1002.7h3v7h-3zM416 1016.9h3v7h-3zM416 1031.1h3v7h-3zM415.5 1045.4h3v7h-3zM415.5 1059.6h3v7h-3zM415.5 1073.8h3v7h-3zM415.5 1088.1h3v7h-3zM415.5 1102.3h3v7h-3zM415.5 1116.5h3v7h-3zM415.5 1130.8h3v7h-3zM415.5 1145h3v7h-3zM415.5 1159.2h3v7h-3zM415.5 1173.4h3v7h-3z" fill="#000" stroke="#000" stroke-width="3" stroke-linejoin="round"/>
<path d="M773.5 50.3h3v7h-3zM773.5 64.5h3v7h-3zM773.5 78.8h3v7h-3zM773.5 93h3v7h-3zM773.5 107.2h3v7h-3zM773.5 121.5h3v7h-3zM773.5 135.7h3v7h-3zM773.5 149.9h3v7h-3zM773.5 164.1h3v7h-3zM773.5 178.4h3v7h-3zM773.5 192.6h3v7h-3zM773 206.8h3v7h-3zM773 221.1h3v7h-3zM773 235.3h3v7h-3zM773 249.5h3v7h-3zM773 263.7h3v7h-3zM773 278h3v7h-3zM773 292.2h3v7h-3zM773 306.4h3v7h-3zM773 320.7h3v7h-3zM773 334.9h3v7h-3zM773 349.1h3v7h-3zM773 363.4h3v7h-3zM773 377.6h3v7h-3zM773 391.8h3v7h-3zM773 406.1h3v7h-3zM773 420.3h3v7h-3zM773 434.5h3v7h-3zM773 448.7h3v7h-3zM773 463h3v7h-3zM772.5 477.2h3v7h-3zM772.5 491.4h3v7h-3zM772.5 505.7h3v7h-3zM772.5 519.9h3v7h-3zM772.5 534.1h3v7h-3zM772.5 548.4h3v7h-3zM772.5 562.6h3v7h-3zM772.5 576.8h3v7h-3zM772.5 591h3v7h-3zM772.5 605.3h3v7h-3zM772.5 619.5h3v7h-3zM772.5 633.7h3v7h-3zM772.5 648h3v7h-3zM772.5 662.2h3v7h-3zM772.5 676.4h3v7h-3zM772.5 690.7h3v7h-3zM772.5 704.9h3v7h-3zM772.5 719.1h3v7h-3zM772.5 733.3h3v7h-3zM772.5 747.6h3v7h-3zM772 761.8h3v7h-3zM772 776h3v7h-3zM772 790.3h3v7h-3zM772 804.5h3v7h-3zM772 818.7h3v7h-3zM772 833h3v7h-3zM772 847.2h3v7h-3zM772 861.4h3v7h-3zM772 875.6h3v7h-3zM772 889.9h3v7h-3zM772 904.1h3v7h-3zM772 918.3h3v7h-3zM772 932.6h3v7h-3zM772 946.8h3v7h-3zM772 961h3v7h-3zM772 975.3h3v7h-3zM772 989.5h3v7h-3zM772 1003.7h3v7h-3zM772 1017.9h3v7h-3zM772 1032.2h3v7h-3zM771.5 1046.4h3v7h-3zM771.5 1060.6h3v7h-3zM771.5 1074.9h3v7h-3zM771.5 1089.1h3v7h-3zM771.5 1103.3h3v7h-3zM771.5 1117.6h3v7h-3zM771.5 1131.8h3v7h-3zM771.5 1146h3v7h-3zM771.5 1160.2h3v7h-3zM771.5 1174.5h3v7h-3z" fill="#000" stroke="#000" stroke-width="3" stroke-linejoin="round"/>
<path fill="#000" fill-rule="evenodd" d="M315.5 49H1839.5L1841 50.5V1183.5L1839.5 1185H315.5L314 1183.5V50.5ZM323 58V1176H1833V58Z"/>
<line x1="924.8" y1="94.9" x2="1044.1" y2="94.9" stroke="#000000" stroke-width="5.8" stroke-linecap="round"/>
<rect x="970.1" y="80" width="28.9" height="28.9" rx="1.6" fill="#000000"/><rect x="975.9" y="85.8" width="17.3" height="17.3" fill="#fff"/>
<text transform="translate(1058.3 114.9) scale(0.9966 1)" font-size="66.5">Coupling static pressure</text>
<line x1="924.8" y1="172.8" x2="1044.1" y2="172.8" stroke="#ff0000" stroke-width="5.8" stroke-linecap="round"/>
<circle cx="984.6" cy="172.8" r="12.6" fill="#fff" stroke="#ff0000" stroke-width="5.8"/>
<text transform="translate(1058.3 193.8) scale(0.9966 1)" font-size="66.5">Coupling dynamic pressure</text>
<line x1="924.8" y1="254.8" x2="1044.1" y2="254.8" stroke="#0000ff" stroke-width="5.8" stroke-linecap="round"/>
<path d="M983.5 233.8Q986.2 233.8 987.1 235.4L1002.7 260.5V264.6L1001.4 265.9H966.9L965.6 264.6V260.5L981.9 235.4Q982.7 233.8 983.5 233.8Z" fill="#0000ff"/><path d="M984.5 242.8L995.1 261H973.9Z" fill="#fff"/>
<text transform="translate(1058.3 273.9) scale(0.9966 1)" font-size="66.5">Coupling total pressure</text>
<line x1="924.8" y1="338.1" x2="1044.1" y2="338.1" stroke="#000000" stroke-width="5.8" stroke-linecap="round"/>
<rect x="969.1" y="323" width="29.8" height="29.8" rx="2.4" fill="#000000"/>
<text transform="translate(1058.3 360) scale(0.9966 1)" font-size="66.5">Pure flow static pressure</text>
<line x1="924.8" y1="416.1" x2="1044.1" y2="416.1" stroke="#ff0000" stroke-width="5.8" stroke-linecap="round"/>
<circle cx="984" cy="415.8" r="15.8" fill="#ff0000"/>
<text transform="translate(1058.3 437.9) scale(0.9966 1)" font-size="66.5">Pure flow dynamic pressure</text>
<line x1="924.8" y1="496.1" x2="1044.1" y2="496.1" stroke="#0000ff" stroke-width="5.8" stroke-linecap="round"/>
<path d="M982.9 474.6Q985.7 474.6 986.5 476.2L1003 502.7V506.1L1001 508.1H966.2L964.2 506.1V502.7L981.3 476.2Q982.1 474.6 982.9 474.6Z" fill="#0000ff"/>
<text transform="translate(1058.3 517.9) scale(0.9966 1)" font-size="66.5">Pure flow total pressure</text>
<text x="343.3" y="1257" font-size="80" text-anchor="middle">0</text>
<text x="587.6" y="1257" font-size="80" text-anchor="middle">1</text>
<text x="833.6" y="1257" font-size="80" text-anchor="middle">2</text>
<text x="1076" y="1257" font-size="80" text-anchor="middle">3</text>
<text x="1320.7" y="1257" font-size="80" text-anchor="middle">4</text>
<text x="1567.2" y="1257" font-size="80" text-anchor="middle">5</text>
<text x="1809.1" y="1257" font-size="80" text-anchor="middle">6</text>
<text x="282.3" y="1206.2" font-size="80" text-anchor="end">0</text>
<text x="264" y="1018.4" font-size="80" text-anchor="end">0.5</text>
<text x="264" y="830.5" font-size="80" text-anchor="end">1.0</text>
<text x="264" y="642.7" font-size="80" text-anchor="end">1.5</text>
<text x="264" y="454.9" font-size="80" text-anchor="end">2.0</text>
<text x="264" y="267" font-size="80" text-anchor="end">2.5</text>
<text x="264" y="79.2" font-size="80" text-anchor="end">3.0</text>
<text x="1083.4" y="1331.8" font-size="79.5" text-anchor="middle">Pipe location (m)</text>
<text transform="translate(114.1 608.6) rotate(-90)" font-size="79.2" text-anchor="middle">Pressure value (kPa)</text>
<text transform="translate(343.9 171.3) scale(1.24 1.33)" font-size="70" letter-spacing="0">I</text>
<text transform="translate(559.2 223.2) scale(1.17 1.33)" font-size="70" letter-spacing="-1.86">II</text>
<text transform="translate(1513 647.1) scale(1.23 1.33)" font-size="70" letter-spacing="-2.47">III</text>
</svg>
</body>
</html>
